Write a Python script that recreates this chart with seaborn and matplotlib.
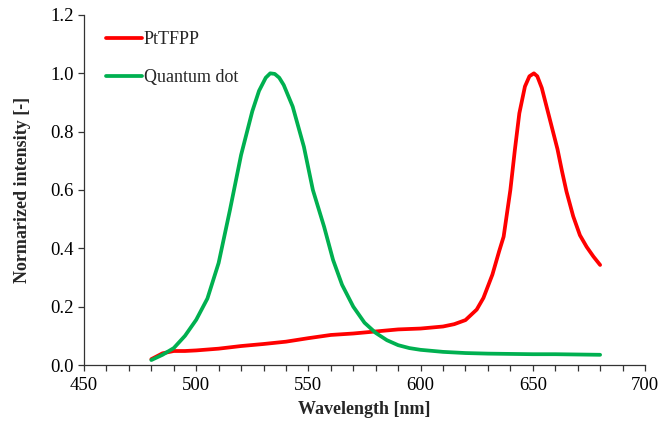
import matplotlib
matplotlib.use("Agg")
import matplotlib.pyplot as plt
import seaborn as sns
import pandas as pd
from matplotlib.ticker import MultipleLocator

# emission spectra
qd_wavelength = [480, 485, 490, 495, 500, 505, 510, 515, 520, 525, 528, 531, 533, 535, 537,
                 539, 543, 548, 552, 557, 561, 565, 570, 575, 580, 585, 590, 595, 600,
                 610, 620, 630, 640, 650, 660, 670, 680]
qd_intensity = [0.017, 0.035, 0.058, 0.10, 0.155, 0.228, 0.35, 0.53, 0.72, 0.87, 0.94, 0.985,
                1.0, 0.998, 0.985, 0.96, 0.886, 0.748, 0.60, 0.474, 0.36, 0.275, 0.20,
                0.145, 0.11, 0.085, 0.068, 0.058, 0.052, 0.045, 0.041, 0.039, 0.038,
                0.037, 0.037, 0.036, 0.035]

pt_wavelength = [480, 485, 490, 495, 500, 510, 520, 530, 540, 550, 560, 570, 580, 590,
                 600, 610, 615, 620, 625, 628, 632, 635, 637, 640, 642, 644, 646.5, 648.5,
                 650.5, 652, 654, 656, 658, 661, 663, 665, 668, 671, 674, 677, 680]
pt_intensity = [0.02, 0.04, 0.048, 0.048, 0.05, 0.056, 0.065, 0.072, 0.08, 0.092, 0.103,
                0.108, 0.115, 0.122, 0.125, 0.132, 0.14, 0.154, 0.19, 0.23, 0.31, 0.39,
                0.44, 0.60, 0.737, 0.863, 0.955, 0.99, 1.0, 0.99, 0.95, 0.89, 0.83,
                0.74, 0.665, 0.595, 0.51, 0.445, 0.405, 0.372, 0.343]

pt = pd.DataFrame({'Wavelength': pt_wavelength, 'Intensity': pt_intensity})
qd = pd.DataFrame({'Wavelength': qd_wavelength, 'Intensity': qd_intensity})

sns.set_style("ticks")
plt.rcParams['font.family'] = ['Liberation Serif', 'DejaVu Serif']

fig = plt.figure(figsize=(6.68, 4.25), dpi=100)
ax = fig.add_axes([84 / 668, 1 - 365 / 425, 561 / 668, 350 / 425])

sns.lineplot(data=pt, x='Wavelength', y='Intensity', color='#FF0000', linewidth=2.7,
             label='PtTFPP', ax=ax)
sns.lineplot(data=qd, x='Wavelength', y='Intensity', color='#00B050', linewidth=2.7,
             label='Quantum dot', ax=ax)

ax.set_xlim(450, 700)
ax.set_ylim(0, 1.2)
ax.xaxis.set_major_locator(MultipleLocator(50))
ax.xaxis.set_minor_locator(MultipleLocator(10))
ax.yaxis.set_major_locator(MultipleLocator(0.2))
ax.yaxis.set_major_formatter(plt.FormatStrFormatter('%.1f'))
ax.tick_params(axis='both', which='both', direction='out', length=4, width=0.9,
               color='#333333', labelsize=13.5, labelcolor='black')
ax.tick_params(axis='x', pad=5)
sns.despine(ax=ax)
for s in ['left', 'bottom']:
    ax.spines[s].set_color('#333333')
    ax.spines[s].set_linewidth(0.9)

ax.set_xlabel('Wavelength [nm]', fontsize=13, fontweight='bold', labelpad=5)
ax.set_ylabel('Normarized intensity [-]', fontsize=13, fontweight='bold', labelpad=14)

ax.legend(loc='upper left', bbox_to_anchor=(0.01, 1.0), frameon=False, fontsize=13,
          handlelength=2.0, handletextpad=0.1, labelspacing=1.15)

fig.savefig('out.png', dpi=100)
